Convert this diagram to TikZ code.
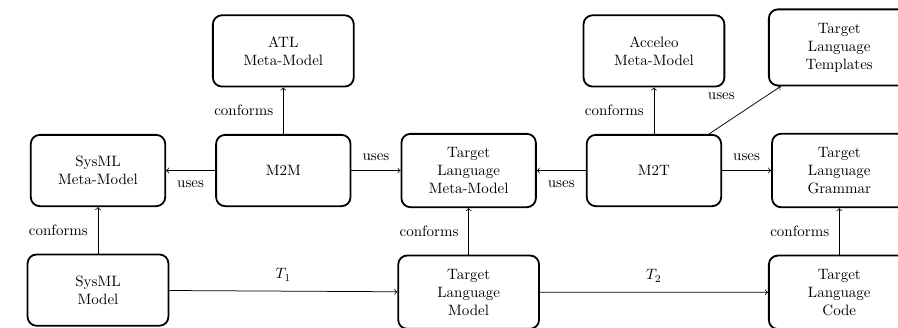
\documentclass[tikz,border=0pt]{standalone}
\usetikzlibrary{positioning}

\begin{document}
\begin{tikzpicture}[auto,node distance=1.09cm and 1.15cm,
    box/.style={draw,very thick,rounded corners=6pt,align=center,minimum width=3.15cm,minimum height=1.67cm,inner ysep=9pt},
    widebox/.style={box,minimum width=3.3cm},
    edgelabel/.style={inner sep=6.5pt},
    link/.style={->,line width=0.5pt}]

            \clip (-65.33pt,-104.33pt) rectangle (533.33pt,113.67pt);

            \node[box] (sysmlmm) {SysML\\Meta-Model};
            \node[box] (m2m) [right=of sysmlmm] {M2M};
            \node[box] (tlmm) [right=of m2m] {Target\\Language\\Meta-Model};
            \node[box] (m2t) [right=of tlmm] {M2T};
            \node[box] (tlgrammar) [right=of m2t] {Target\\Language\\Grammar};

            \node[widebox] (atlmm) [above=of m2m] {ATL\\Meta-Model};
            \node[widebox] (acceleomm) [above=of m2t] {Acceleo\\Meta-Model};
            \node[widebox] (tltemplates) [above=of tlgrammar] {Target\\Language\\Templates};

            \node[widebox] (sysmlmodel) [below=of sysmlmm] {SysML\\Model};
            \node[widebox] (tlmodel) [below=of tlmm] {Target\\Language\\Model};
            \node[widebox] (tlcode) [below=of tlgrammar] {Target\\Language\\Code};

            % conforms
            \draw[link] (sysmlmodel) -- node[edgelabel]{conforms} (sysmlmm);
            \draw[link] (m2m) -- node[edgelabel]{conforms} (atlmm);
            \draw[link] (tlmodel) -- node[edgelabel]{conforms} (tlmm);
            \draw[link] (m2t) -- node[edgelabel]{conforms} (acceleomm);
            \draw[link] (tlcode) -- node[edgelabel]{conforms} (tlgrammar);

            % uses
            \draw[link] (m2m) -- node[edgelabel]{uses} (sysmlmm);
            \draw[link] (m2m) -- node[edgelabel]{uses} (tlmm);
            \draw[link] (m2t) -- node[edgelabel]{uses} (tlmm);
            \draw[link] (m2t) -- node[edgelabel]{uses} (tlgrammar);
            \draw[link] (m2t) -- node[edgelabel]{uses} (tltemplates);

            % transformations
            \draw[link] (sysmlmodel) -- node[edgelabel]{$T_1$} (tlmodel);
            \draw[link] (tlmodel) -- node[edgelabel]{$T_2$} (tlcode);

\end{tikzpicture}
\end{document}
